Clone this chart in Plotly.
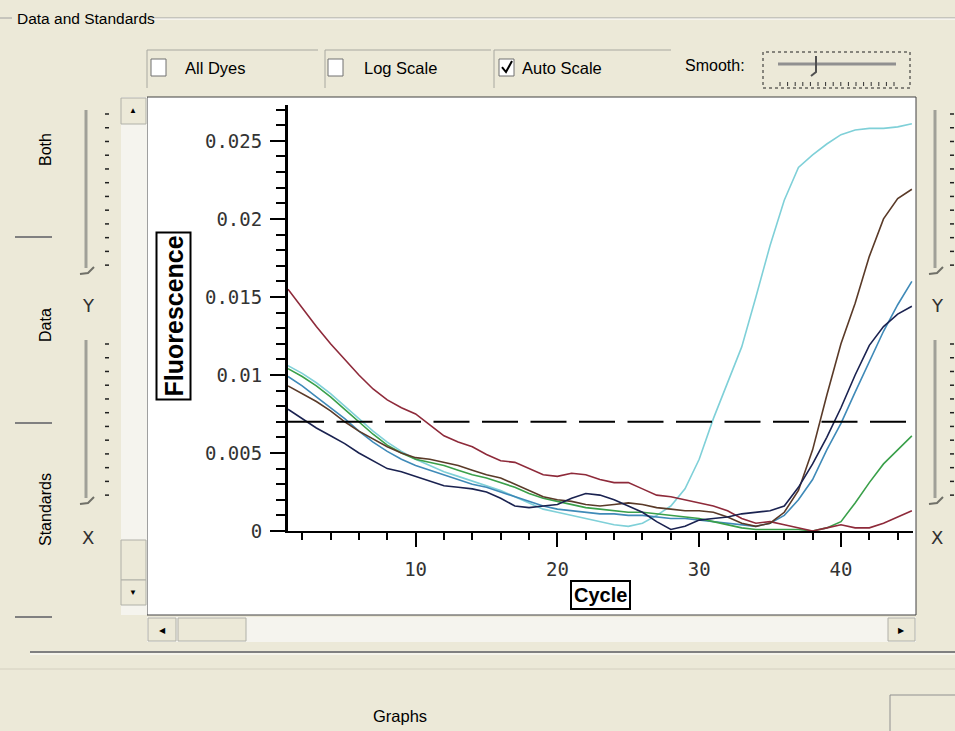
import plotly.graph_objects as go

# ---------------- data ----------------
cycles = list(range(1, 46))

red = [0.0155, 0.0143, 0.0131, 0.0120, 0.0110, 0.0100, 0.0091, 0.0084, 0.0079, 0.0075,
       0.0068, 0.0061, 0.0057, 0.0054, 0.0049, 0.0045, 0.0044, 0.0040, 0.0036, 0.0035,
       0.0037, 0.0036, 0.0033, 0.0031, 0.0031, 0.0027, 0.0023, 0.0022, 0.0020, 0.0018,
       0.0016, 0.0013, 0.0008, 0.0005, 0.0006, 0.0004, 0.0002, 0.0000, 0.0002, 0.0004,
       0.0002, 0.0002, 0.0005, 0.0009, 0.0013]

cyan = [0.0106, 0.0101, 0.0095, 0.0088, 0.0080, 0.0072, 0.0064, 0.0057, 0.0051, 0.0046,
        0.0042, 0.0038, 0.0035, 0.0032, 0.0029, 0.0026, 0.0022, 0.0018, 0.0014, 0.0012,
        0.0010, 0.0008, 0.0006, 0.0004, 0.0003, 0.0005, 0.0010, 0.0016, 0.0027, 0.0046,
        0.0072, 0.0095, 0.0118, 0.0150, 0.0183, 0.0212, 0.0233, 0.0241, 0.0248, 0.0254,
        0.0257, 0.0258, 0.0258, 0.0259, 0.0261]

green = [0.0104, 0.0099, 0.0093, 0.0086, 0.0078, 0.0070, 0.0062, 0.0055, 0.0050, 0.0046,
         0.0044, 0.0042, 0.0039, 0.0036, 0.0034, 0.0031, 0.0028, 0.0024, 0.0021, 0.0019,
         0.0017, 0.0015, 0.0014, 0.0013, 0.0012, 0.0012, 0.0011, 0.0010, 0.0009, 0.0008,
         0.0006, 0.0004, 0.0002, 0.0001, 0.0001, 0.0001, 0.0001, 0.0000, 0.0002, 0.0006,
         0.0018, 0.0031, 0.0043, 0.0052, 0.0061]

steel = [0.0099, 0.0093, 0.0086, 0.0079, 0.0072, 0.0064, 0.0057, 0.0051, 0.0046, 0.0042,
         0.0039, 0.0036, 0.0033, 0.0030, 0.0028, 0.0025, 0.0022, 0.0019, 0.0016, 0.0014,
         0.0013, 0.0012, 0.0011, 0.0011, 0.0010, 0.0010, 0.0009, 0.0008, 0.0008, 0.0007,
         0.0006, 0.0005, 0.0004, 0.0003, 0.0005, 0.0010, 0.0020, 0.0033, 0.0052, 0.0069,
         0.0089, 0.0108, 0.0128, 0.0145, 0.0160]

brown = [0.0093, 0.0088, 0.0083, 0.0077, 0.0070, 0.0064, 0.0059, 0.0054, 0.0050, 0.0047,
         0.0046, 0.0044, 0.0042, 0.0039, 0.0036, 0.0034, 0.0030, 0.0026, 0.0022, 0.0020,
         0.0019, 0.0017, 0.0016, 0.0017, 0.0018, 0.0017, 0.0015, 0.0014, 0.0013, 0.0013,
         0.0012, 0.0009, 0.0005, 0.0003, 0.0005, 0.0012, 0.0026, 0.0052, 0.0087, 0.0120,
         0.0146, 0.0176, 0.0200, 0.0213, 0.0219]

navy = [0.0078, 0.0072, 0.0066, 0.0061, 0.0056, 0.0050, 0.0045, 0.0040, 0.0038, 0.0035,
        0.0032, 0.0029, 0.0028, 0.0027, 0.0025, 0.0021, 0.0016, 0.0015, 0.0016, 0.0017,
        0.0021, 0.0024, 0.0023, 0.0020, 0.0016, 0.0012, 0.0006, 0.0001, 0.0003, 0.0007,
        0.0008, 0.0009, 0.0011, 0.0012, 0.0013, 0.0016, 0.0028, 0.0043, 0.0060, 0.0079,
        0.0100, 0.0119, 0.0131, 0.0139, 0.0144]

threshold = 0.007
x_range = [1, 45.08]
y_range = [0, 0.0273]

series = [
    ("Cyan", cyan, "#7fd0d8"),
    ("Steel", steel, "#3f8ab8"),
    ("Green", green, "#3aa04a"),
    ("Red", red, "#8e2a3a"),
    ("Brown", brown, "#5a3a28"),
    ("Navy", navy, "#1a2250"),
]

# ---------------- layout helpers ----------------
W, H = 955, 731
L, R, T, B = 288, 42, 105, 200
PW, PH = W - L - R, H - T - B


def px(x):
    return (x - L) / PW


def py(y):
    return (H - B - y) / PH


UI_FONT = "Liberation Sans, Arial, sans-serif"
BG = "#ECE9D8"

fig = go.Figure()
for name, vals, color in series:
    fig.add_trace(go.Scatter(x=cycles, y=vals, mode="lines", name=name,
                             line=dict(color=color, width=1.6), hoverinfo="x+y+name"))

fig.add_trace(go.Scatter(x=[cycles[0], cycles[-1]], y=[threshold, threshold], mode="lines",
                         name="Threshold", line=dict(color="black", width=2, dash="36px,12.5px")))

shapes = []


def rect(x0, y0, x1, y1, fill=None, line=None, lw=1, dash=None, layer="below"):
    d = dict(type="rect", xref="paper", yref="paper", x0=px(x0), x1=px(x1), y0=py(y1), y1=py(y0),
             layer=layer, line=dict(width=lw if line else 0, color=line or "rgba(0,0,0,0)"))
    if dash:
        d["line"]["dash"] = dash
    if fill:
        d["fillcolor"] = fill
    shapes.append(d)


def seg(x0, y0, x1, y1, color="#808080", lw=1, layer="below"):
    shapes.append(dict(type="line", xref="paper", yref="paper", x0=px(x0), x1=px(x1),
                       y0=py(y0), y1=py(y1), layer=layer, line=dict(color=color, width=lw)))


def path(points, color="black", lw=2, layer="above"):
    p = "M " + " L ".join(f"{px(a):.5f},{py(b):.5f}" for a, b in points)
    shapes.append(dict(type="path", xref="paper", yref="paper", path=p, layer=layer,
                       line=dict(color=color, width=lw)))


annotations = []


def note(text, x, y, size=16, xanchor="center", angle=0, color="black", family=UI_FONT, **kw):
    annotations.append(dict(text=text, x=px(x), y=py(y), xref="paper", yref="paper",
                            showarrow=False, xanchor=xanchor, yanchor="middle",
                            textangle=angle, font=dict(family=family, size=size, color=color), **kw))


# group box lines
seg(0, 18, 12, 18, "#A0A0A0", 1)
seg(150, 18, 955, 18, "#A0A0A0", 1)
seg(150, 19, 955, 19, "white", 1)
seg(30, 652, 955, 652, "#808080", 2)
seg(30, 654, 955, 654, "white", 1)
seg(0, 669, 955, 669, "#D4D0C0", 1)
note("Data and Standards", 15, 18, size=15.5, xanchor="left")

# checkbox row
for (x0, x1) in [(147, 318), (325, 491), (494, 671)]:
    seg(x0, 50, x1, 50, "#A8A8A0", 1)
    seg(x0, 50, x0, 88, "#A8A8A0", 1)
for bx in [151, 328, 499]:
    rect(bx, 59, bx + 15, 76, fill="white", line="#707070", lw=1)
path([(502, 67), (506, 72), (512, 61)], "black", 2)
note("All Dyes", 183, 68, size=16.5, xanchor="left")
note("Log Scale", 362, 68, size=16.5, xanchor="left")
note("Auto Scale", 520, 68, size=16.5, xanchor="left")
note("Smooth:", 683, 66, size=16, xanchor="left")
rect(763, 52, 910, 88, line="#202020", lw=1, dash="dot")
seg(778, 64, 896, 64, "#909090", 3)
path([(811, 76), (816, 72), (816, 56)], "#505050", 2)
for i in range(16):
    seg(780 + i * 7.6, 82, 780 + i * 7.6, 86, "#303030", 1)

# white chart panel
rect(147, 97, 916, 615, fill="white", line="#404040", lw=1)

# vertical scrollbar
rect(121, 97, 147, 615, fill="#F5F4EE")
rect(121, 98, 146, 124, fill=BG, line="#B0B0A8", lw=1)
rect(121, 540, 146, 580, fill=BG, line="#B0B0A8", lw=1)
rect(121, 580, 146, 605, fill=BG, line="#B0B0A8", lw=1)
note("▲", 133, 111, size=8)
note("▼", 133, 592, size=8)

# horizontal scrollbar
rect(147, 617, 916, 642, fill="#F5F4EE")
rect(148, 618, 176, 641, fill=BG, line="#B0B0A8", lw=1)
rect(178, 618, 246, 641, fill=BG, line="#B0B0A8", lw=1)
rect(888, 618, 915, 641, fill=BG, line="#B0B0A8", lw=1)
note("◀", 162, 630, size=8)
note("▶", 901, 630, size=8)

# left tabs
for yy in [237, 423, 617]:
    seg(15, yy, 52, yy, "#808080", 2)
note("Both", 45, 150, size=16, angle=-90)
note("Data", 45, 325, size=16, angle=-90)
note("Standards", 45, 510, size=16, angle=-90)

# side sliders
for gx, dx in [(86, 107), (935, 952)]:
    for (y0, y1, lab, ly) in [(110, 268, "Y", 305), (340, 498, "X", 537)]:
        seg(gx, y0, gx, y1, "#A0A098", 3)
        path([(gx - 6, y1 + 6), (gx + 2, y1 + 5), (gx + 8, y1 - 1)], "#707068", 2, layer="below")
        for i in range(12):
            yy = y0 + 4 + i * (y1 - y0) / 11.5
            seg(dx - 2, yy, dx + 2, yy, "#202020", 1.5)
        note(lab, gx + 2, ly, size=18, color="#303030", family="DejaVu Sans, sans-serif")

# bottom
note("Graphs", 400, 716, size=16.5)
rect(890, 695, 960, 740, fill=BG, line="#909090", lw=1)

# axis titles (boxed)
note("<b>Fluorescence</b>", 173.5, 316, size=25, angle=-90,
     family="Liberation Sans, Arial, sans-serif", bordercolor="black", borderwidth=2, borderpad=2,
     bgcolor="white")
note("<b>Cycle</b>", 600.5, 595, size=20,
     family="Liberation Sans, Arial, sans-serif", bordercolor="black", borderwidth=2, borderpad=2,
     bgcolor="white")

tick_font = dict(family="DejaVu Sans Mono, monospace", size=19, color="#333333")

fig.update_layout(
    width=W, height=H,
    margin=dict(l=L, r=R, t=T, b=B, pad=0),
    paper_bgcolor=BG, plot_bgcolor="white",
    showlegend=False,
    shapes=shapes, annotations=annotations,
    xaxis=dict(range=x_range, showline=True, linecolor="black", linewidth=2,
               ticks="outside", ticklen=14, tickwidth=2, tickcolor="black",
               tickmode="linear", tick0=0, dtick=10, ticklabelstandoff=6,
               minor=dict(ticks="outside", ticklen=7, tickwidth=2, tickcolor="black",
                          tickmode="linear", tick0=0, dtick=2),
               showgrid=False, zeroline=False, tickfont=tick_font),
    yaxis=dict(range=y_range, showline=True, linecolor="black", linewidth=3,
               ticks="outside", ticklen=15, tickwidth=2, tickcolor="black",
               tickmode="linear", tick0=0, dtick=0.005, ticklabelstandoff=4,
               minor=dict(ticks="outside", ticklen=9, tickwidth=2, tickcolor="black",
                          tickmode="linear", tick0=0, dtick=0.001),
               showgrid=False, zeroline=False, tickfont=tick_font),
)

fig.write_html("out.html", config={"displayModeBar": False},
               post_script="document.body.style.margin='0';document.body.style.overflow='hidden';")
